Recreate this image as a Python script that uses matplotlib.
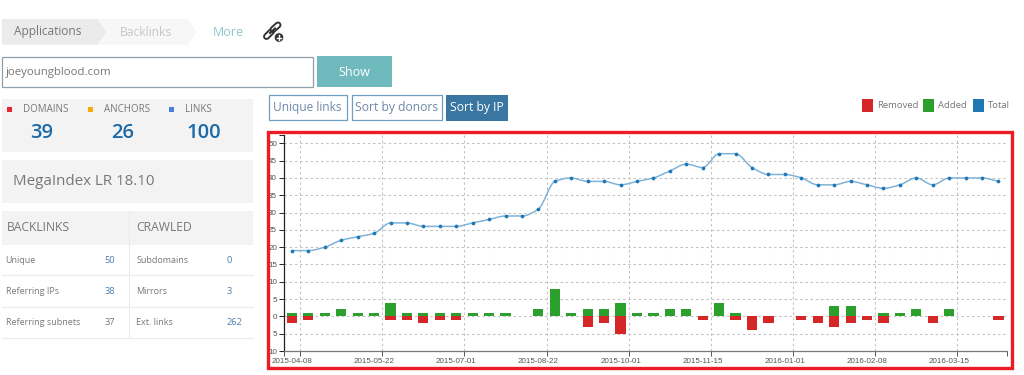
import matplotlib
matplotlib.use('Agg')
import matplotlib.pyplot as plt
from matplotlib.path import Path
from matplotlib.patches import PathPatch, Rectangle, Polygon, Circle

plt.rcParams['font.family'] = ['Open Sans', 'DejaVu Sans']

# chart data
total = [19, 19, 20, 22, 23, 24, 27, 27, 26, 26, 26, 27, 28, 29, 29, 31, 39, 40, 39, 39, 38, 39,
         40, 42, 44, 43, 47, 47, 43, 41, 41, 40, 38, 38, 39, 38, 37, 38, 40, 38, 40, 40, 40, 39]
added = [1, 1, 1, 2, 1, 1, 4, 1, 1, 1, 1, 1, 1, 1, 0, 2, 8, 1, 2, 2, 4, 1,
         1, 2, 2, 0, 4, 1, 0, 0, 0, 0, 0, 3, 3, 0, 1, 1, 2, 0, 2, 0, 0, 0]
removed = [2, 1, 0, 0, 0, 0, 1, 1, 2, 1, 1, 0, 0, 0, 0, 0, 0, 0, 3, 2, 5, 0,
           0, 0, 0, 1, 0, 1, 4, 2, 0, 1, 2, 3, 2, 1, 2, 0, 0, 2, 0, 0, 0, 1]
date_labels = ['2015-04-08', '2015-05-22', '2015-07-01', '2015-08-22', '2015-10-01',
               '2015-11-15', '2016-01-01', '2016-02-08', '2016-03-15']
y_values = [-10, -5, 0, 5, 10, 15, 20, 25, 30, 35, 40, 45, 50]

# side panel data
stat_names = ['DOMAINS', 'ANCHORS', 'LINKS']
stat_values = ['39', '26', '100']
backlink_names = ['Unique', 'Referring IPs', 'Referring subnets']
backlink_values = ['50', '38', '37']
crawled_names = ['Subdomains', 'Mirrors', 'Ext. links']
crawled_values = ['0', '3', '262']

W, H = 1024, 375
GREEN = '#2ca02c'
RED = '#d62728'
BLUE = '#1f77b4'
GREY = '#777777'


def pixel_axes(zorder):
    # axes covering the whole figure, measured in screenshot pixels
    a = fig.add_axes([0, 0, 1, 1], zorder=zorder)
    a.set_xlim(0, W)
    a.set_ylim(H, 0)
    a.axis('off')
    a.patch.set_alpha(0)
    return a


def box(a, x0, y0, x1, y1, color, edge='none', lw=0):
    a.add_patch(Rectangle((x0, y0), x1 - x0, y1 - y0, facecolor=color, edgecolor=edge, linewidth=lw))


def monotone_path(ys):
    # smooth curve through the points, same idea as d3's monotone line
    xs = [i + 0.5 for i in range(len(ys))]
    d = [ys[i + 1] - ys[i] for i in range(len(ys) - 1)]
    m = [d[0]]
    for i in range(1, len(d)):
        m.append(0 if d[i - 1] * d[i] <= 0 else 2 * d[i - 1] * d[i] / (d[i - 1] + d[i]))
    m.append(d[-1])
    verts = [(xs[0], ys[0])]
    codes = [Path.MOVETO]
    for i in range(len(d)):
        verts += [(xs[i] + 1 / 3, ys[i] + m[i] / 3), (xs[i + 1] - 1 / 3, ys[i + 1] - m[i + 1] / 3), (xs[i + 1], ys[i + 1])]
        codes += [Path.CURVE4] * 3
    return Path(verts, codes)


fig = plt.figure(figsize=(W / 100, H / 100), dpi=100)
ui = pixel_axes(0)

# breadcrumb
ui.add_patch(Polygon([(99, 19), (188, 19), (197, 32), (188, 44.7), (99, 44.7), (107, 32)], facecolor='#f7f7f7', edgecolor='none'))
ui.add_patch(Polygon([(2, 19), (98, 19), (106.5, 32), (98, 44.7), (2, 44.7)], facecolor='#ebebeb', edgecolor='none'))
ui.text(13.5, 32, 'Applications', fontsize=8.6, color=GREY, va='center')
ui.text(120, 32, 'Backlinks', fontsize=8.7, color='#c6c6c6', va='center')
ui.text(213, 32.5, 'More', fontsize=9, color='#8ec5cf', va='center')

# link icon
for seg in ([(266.5, 36.5), (271.5, 31.5)], [(273, 29.5), (278, 25)]):
    xs, ys = zip(*seg)
    ui.plot(xs, ys, color='#333333', lw=5, solid_capstyle='round')
    ui.plot(xs, ys, color='white', lw=2.2, solid_capstyle='round')
ui.plot([270, 275], [33, 28.5], color='#333333', lw=1.5)
ui.add_patch(Circle((279, 37.5), 4.8, facecolor='#333333', edgecolor='white', linewidth=0.6))
ui.plot([276.7, 281.3], [37.5, 37.5], color='white', lw=1.0)
ui.plot([279, 279], [35.2, 39.8], color='white', lw=1.0)

# search row
box(ui, 2, 56.5, 313, 87, 'white', '#8f9fae', 0.9)
ui.text(6, 72, 'joeyoungblood.com', fontsize=8.2, color=GREY, va='center')
box(ui, 317, 56, 392, 87, '#6fbabd')
ui.text(354.5, 72, 'Show', fontsize=9, color='white', va='center', ha='center')

# stats panel
box(ui, 1.5, 99, 253, 152, '#f3f3f3')
stat_colors = ['#e8262d', '#f9a70e', '#4a7fe0']
for i, name in enumerate(stat_names):
    x = 7 + 81 * i
    box(ui, x, 107, x + 5, 112, stat_colors[i])
    ui.text(x + 16, 109.7, name, fontsize=7, color=GREY, va='center')
    ui.text(x + 35 - (0 if i < 2 else 0.5), 133, stat_values[i], fontsize=14.5, weight='semibold', color='#1a6aa8', va='center', ha='center')

box(ui, 1.5, 160, 253, 203, '#f3f3f3')
ui.text(13, 181.5, 'MegaIndex LR 18.10', fontsize=10.9, color=GREY, va='center')

# backlinks table
box(ui, 1.5, 211, 253, 244.5, '#f3f3f3')
ui.plot([128.5, 128.5], [211, 337.5], color='#ebebeb', lw=0.8)
for y in (275.3, 306.7, 337.7):
    ui.plot([1.5, 253], [y, y], color='#ebebeb', lw=0.8)
ui.text(7, 227.5, 'BACKLINKS', fontsize=8.7, color=GREY, va='center')
ui.text(136.5, 227.5, 'CRAWLED', fontsize=8.7, color=GREY, va='center')
for i in range(3):
    y = 260.3 + 31 * i
    ui.text(5.7, y, backlink_names[i], fontsize=6.5, color=GREY, va='center')
    ui.text(115, y, backlink_values[i], fontsize=6.7, color=GREY if i == 2 else '#4a7fb0', va='center', ha='right')
    ui.text(136.5, y, crawled_names[i], fontsize=6.5, color=GREY, va='center')
    ui.text(226.7, y, crawled_values[i], fontsize=6.7, color='#4a7fb0', va='center')

# sort buttons
box(ui, 268.5, 95, 346.5, 120, 'white', '#6f9fc0', 0.9)
ui.text(307.5, 107.5, 'Unique links', fontsize=8.6, color='#6d88a8', va='center', ha='center')
box(ui, 351.5, 95, 442, 120, 'white', '#6f9fc0', 0.9)
ui.text(396.7, 107.5, 'Sort by donors', fontsize=8.7, color='#6d88a8', va='center', ha='center')
box(ui, 445.5, 95, 508, 120.5, '#3a76a2')
ui.text(476.7, 107.5, 'Sort by IP', fontsize=8.7, color='white', va='center', ha='center')

# legend
legend_items = [('Removed', RED, 861.7), ('Added', GREEN, 923.3), ('Total', BLUE, 973)]
for name, color, x in legend_items:
    box(ui, x, 99, x + 11, 111.5, color)
    ui.text(x + 15, 105.5, name, fontsize=6.8, color=GREY, va='center')

# chart
left, right, top, bottom = 283.7, 1006.7, 135, 351
ax = fig.add_axes([left / W, 1 - bottom / H, (right - left) / W, (bottom - top) / H], zorder=1)
ax.patch.set_alpha(0)
n = len(total)
ax.set_xlim(0, n)
ax.set_ylim(-10, 52.4)
centers = [i + 0.5 for i in range(n)]
grid_x = list(range(1, n, 5))

dash = (0, (2.4, 2.6))
ax.hlines([v for v in y_values if v > -10], 0, n, color='#c2c2c2', lw=0.75, linestyles=dash, zorder=1)
ax.vlines(grid_x, -10, 52.4, color='#c2c2c2', lw=0.75, linestyles=dash, zorder=1)

# no mark at all for the empty days
add_x = [c for c, v in zip(centers, added) if v]
add_h = [v for v in added if v]
rem_x = [c for c, v in zip(centers, removed) if v]
rem_h = [-v for v in removed if v]
ax.bar(add_x, add_h, width=0.62, color=GREEN, edgecolor='none', zorder=2)
ax.bar(rem_x, rem_h, width=0.62, color=RED, edgecolor='none', zorder=2)

ax.add_patch(PathPatch(monotone_path(total), facecolor='none', edgecolor='#7fb3d9', linewidth=1.1, zorder=3))
ax.plot(centers, total, ls='none', marker='o', ms=2.7, mew=0, color=BLUE, zorder=4)

for side in ('top', 'right'):
    ax.spines[side].set_visible(False)
ax.spines['left'].set_color('#222222')
ax.spines['left'].set_linewidth(0.9)
ax.spines['bottom'].set_color('#777777')
ax.spines['bottom'].set_linewidth(0.9)

ax.set_yticks(y_values + [52.4])
ax.set_yticklabels([str(abs(v)) for v in y_values] + [''], fontsize=5.8, color='#555555', family='Liberation Sans')
ax.tick_params(axis='y', length=3.6, width=0.7, color='#222222', pad=1.2)

ax.set_xticks([0] + grid_x + [n])
ax.set_xticklabels([])
ax.tick_params(axis='x', which='major', length=3.6, width=0.7, color='#555555')
ax.set_xticks([g - 0.5 for g in grid_x], minor=True)
ax.set_xticklabels(date_labels, minor=True, fontsize=5.8, color='#555555', family='Liberation Sans')
ax.tick_params(axis='x', which='minor', length=0, pad=5.2)

# red highlight on top of the chart, it clips the y labels
over = pixel_axes(2)
over.add_patch(Rectangle((268.3, 132.4), 743.2, 236, facecolor='none', edgecolor='#ed1c24', linewidth=2.4))

fig.savefig('out.png', dpi=100)
